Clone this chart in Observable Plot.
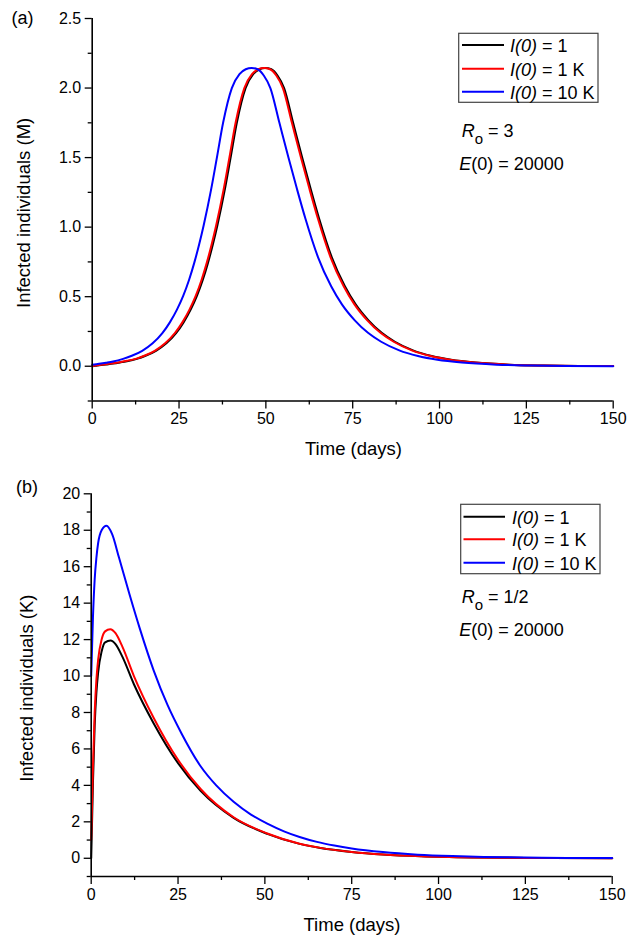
<!DOCTYPE html>
<html><head><meta charset="utf-8">
<script src="https://cdn.jsdelivr.net/npm/d3@7"></script>
<script src="https://cdn.jsdelivr.net/npm/@observablehq/plot@0.6"></script>
<style>
body{margin:0;background:#fff;}
#chart{width:627px;}
#chart svg{display:block;}
</style></head><body><div id="chart"></div>
<script>
// ---------- ticks ----------
const xMajor = [0, 25, 50, 75, 100, 125, 150];
const xMinor = [12.5, 37.5, 62.5, 87.5, 112.5, 137.5];
const topYMajor = [0, 0.5, 1, 1.5, 2, 2.5];
const topYMinor = [-0.25, 0.25, 0.75, 1.25, 1.75, 2.25];
const botYMajor = [0, 2, 4, 6, 8, 10, 12, 14, 16, 18, 20];
const botYMinor = [-1, 1, 3, 5, 7, 9, 11, 13, 15, 17, 19];

// ---------- series ----------
const seriesLabels = ["1", "1 K", "10 K"];
const seriesColors = ["#000000", "#ff0000", "#0000ff"];

// panel (a): R0 = 3, infected individuals in millions, [day, value]
const topI1 = [[0,0],[1,0.003],[2,0.007],[4,0.013],[6,0.019],[8,0.027],[10,0.036],[12.85,0.053],[15.35,0.075],[18.35,0.111],[21.35,0.165],[24.15,0.238],[26.35,0.317],[28.35,0.407],[30.15,0.506],[31.85,0.622],[33.35,0.745],[34.75,0.877],[36.05,1.014],[38.15,1.266],[39.85,1.5],[41.65,1.752],[44.15,2.0],[46.35,2.1],[48.15,2.135],[49.85,2.145],[51.55,2.135],[53.35,2.09],[55.25,2.0],[57.85,1.75],[60.45,1.5],[62.95,1.27],[65.35,1.06],[68.95,0.785],[72.75,0.575],[75.85,0.445],[79.55,0.33],[83.35,0.24],[87.15,0.176],[92.35,0.114],[97.75,0.073],[103.35,0.046],[110.35,0.026],[120,0.011],[130,0.005],[140,0.002],[150,0.001]];
const topI1K = [[0,0.001],[1,0.005],[2,0.009],[4,0.015],[6,0.021],[8,0.029],[10,0.039],[12.5,0.053],[15,0.075],[18,0.111],[21,0.165],[23.8,0.238],[26,0.317],[28,0.407],[29.8,0.506],[31.5,0.622],[33,0.745],[34.4,0.877],[35.7,1.014],[37.8,1.266],[39.5,1.5],[41.3,1.752],[43.8,2.0],[46,2.1],[47.8,2.135],[49.5,2.145],[51.2,2.135],[53,2.09],[54.9,2.0],[57.5,1.75],[60.1,1.5],[62.6,1.27],[65,1.06],[68.6,0.785],[72.4,0.575],[75.5,0.445],[79.2,0.33],[83,0.24],[86.8,0.176],[92,0.114],[97.4,0.073],[103,0.046],[110,0.026],[120,0.011],[130,0.005],[140,0.002],[150,0.001]];
const topI10K = [[0,0.01],[2,0.017],[4,0.025],[6,0.034],[8.9,0.053],[11.4,0.075],[14.4,0.111],[17.4,0.165],[20.2,0.238],[22.4,0.317],[24.4,0.407],[26.2,0.506],[27.9,0.622],[29.4,0.745],[30.8,0.877],[32.1,1.014],[34.2,1.266],[35.9,1.5],[37.7,1.752],[40.2,2.0],[42.4,2.1],[44.2,2.135],[45.9,2.145],[47.6,2.135],[49.4,2.09],[51.3,2.0],[53.9,1.75],[56.5,1.5],[59,1.27],[61.4,1.06],[65,0.785],[68.8,0.575],[71.9,0.445],[75.6,0.33],[79.4,0.24],[83.2,0.176],[88.4,0.114],[93.8,0.073],[99.4,0.046],[106.4,0.026],[116.4,0.011],[126.4,0.005],[136.4,0.002],[150,0.0005]];

// panel (b): R0 = 1/2, infected individuals in thousands, [day, value]
const botI1 = [[0,0],[0.5,4.1],[1,7.3],[1.5,9.1],[2,10.2],[3,11.35],[4,11.85],[5.6,11.95],[7,11.75],[9,11.05],[12.3,9.55],[18,7.4],[25,5.22],[31.5,3.7],[41,2.22],[50.7,1.34],[60,0.79],[66,0.565],[75,0.35],[84,0.21],[95,0.11],[110,0.045],[125,0.02],[150,0.004]];
const botI1K = [[0,1.0],[0.5,5.0],[1,8.0],[1.5,9.8],[2,10.9],[3,12.0],[4,12.45],[5.5,12.57],[7,12.35],[9,11.6],[12.3,10.0],[18,7.7],[25,5.4],[31.5,3.8],[41,2.25],[50.7,1.36],[60,0.8],[66,0.57],[75,0.35],[84,0.21],[95,0.11],[110,0.045],[125,0.02],[150,0.004]];
const botI10K = [[0,10.0],[0.5,13.2],[1,15.3],[1.5,16.5],[2,17.3],[3,18.0],[4.4,18.25],[6,17.8],[8,16.5],[11,14.5],[14,12.6],[18,10.3],[22,8.4],[26,6.85],[31.5,5.05],[36,4.0],[41,3.1],[46,2.4],[50.7,1.9],[55.5,1.48],[60,1.17],[65,0.9],[70,0.7],[75,0.54],[84,0.34],[94,0.2],[104,0.12],[113,0.075],[125,0.04],[137,0.02],[150,0.01]];

const FONT = "'Liberation Sans', Arial, Helvetica, sans-serif";

function panel(cfg) {
  const lineOpts = (color) => ({x: d => d[0], y: d => d[1], stroke: color, strokeWidth: 2, curve: "monotone-x"});
  return Plot.plot({
    width: 627, height: cfg.height,
    marginLeft: cfg.ml, marginRight: cfg.mr, marginTop: cfg.mt, marginBottom: cfg.mb,
    x: {domain: [0, 150]},
    y: {domain: cfg.yDomain},
    style: {fontFamily: FONT, fontSize: "16px", color: "#000", background: "#fff", overflow: "visible"},
    marks: [
      Plot.axisX(xMajor, {tickSize: 8, tickPadding: 4, strokeWidth: 1.3, label: null, tickFormat: d3.format("d")}),
      Plot.axisX(xMinor, {tickSize: 4, strokeWidth: 1.3, label: null, tickFormat: () => ""}),
      Plot.axisY(cfg.yMajor, {tickSize: 7, tickPadding: 4, strokeWidth: 1.3, label: null, tickFormat: cfg.yFormat}),
      Plot.axisY(cfg.yMinor, {tickSize: 4, strokeWidth: 1.3, label: null, tickFormat: () => ""}),
      Plot.line(cfg.series[0], lineOpts(seriesColors[0])),
      Plot.line(cfg.series[1], lineOpts(seriesColors[1])),
      Plot.line(cfg.series[2], lineOpts(seriesColors[2])),
      Plot.ruleX([0], {stroke: "#000", strokeWidth: 1.6}),
      Plot.ruleY([cfg.yDomain[0]], {stroke: "#000", strokeWidth: 1.6})
    ]
  });
}

function decorate(svg, d) {
  const g = d3.select(svg).append("g").attr("font-family", FONT).attr("fill", "#000")
    .attr("font-size", 18).attr("text-anchor", "start");
  g.append("text").attr("x", d.letter[0]).attr("y", d.letter[1]).text(d.letter[2]);
  g.append("text").attr("x", d.xTitle[0]).attr("y", d.xTitle[1]).attr("font-size", 18.5).text("Time (days)");
  g.append("text").attr("transform", `translate(${d.yTitle[0]},${d.yTitle[1]}) rotate(-90)`).attr("font-size", 18.5).text(d.yTitle[2]);
  const L = d.legend;
  g.append("rect").attr("x", L.x).attr("y", L.y).attr("width", L.w).attr("height", L.h)
    .attr("fill", "#fff").attr("stroke", "#444").attr("stroke-width", 1.2);
  L.rows.forEach((ry, i) => {
    g.append("line").attr("x1", L.lx1).attr("x2", L.lx2).attr("y1", ry).attr("y2", ry)
      .attr("stroke", seriesColors[i]).attr("stroke-width", 2);
    const t = g.append("text").attr("x", L.tx).attr("y", ry + 7);
    t.append("tspan").attr("font-style", "italic").text("I(0)");
    t.append("tspan").text(" = " + seriesLabels[i]);
  });
  const r = g.append("text").attr("x", d.r[0]).attr("y", d.r[1]);
  r.append("tspan").attr("font-style", "italic").text("R");
  r.append("tspan").attr("dy", 7).attr("font-size", 15).text("o");
  r.append("tspan").attr("dy", -7).text(" = " + d.r[2]);
  const e = g.append("text").attr("x", d.e[0]).attr("y", d.e[1]);
  e.append("tspan").attr("font-style", "italic").text("E");
  e.append("tspan").text("(0) = 20000");
}

const topPanel = panel({
  height: 470, ml: 91.7, mr: 14.3, mt: 18, mb: 69.5,
  yDomain: [-0.25, 2.5], yMajor: topYMajor, yMinor: topYMinor, yFormat: d3.format(".1f"),
  series: [topI1, topI1K, topI10K]
});
decorate(topPanel, {
  letter: [11.5, 24, "(a)"],
  xTitle: [305, 455],
  yTitle: [29.5, 308, "Infected individuals (M)"],
  legend: {x: 458.7, y: 33.3, w: 139.3, h: 69, lx1: 462, lx2: 504, tx: 510, rows: [45, 68.7, 91.7]},
  r: [461.7, 137, "3"],
  e: [459.3, 170]
});

const botPanel = panel({
  height: 473, ml: 90.7, mr: 15.3, mt: 23.3, mb: 67,
  yDomain: [-1, 20], yMajor: botYMajor, yMinor: botYMinor, yFormat: d3.format("d"),
  series: [botI1, botI1K, botI10K]
});
decorate(botPanel, {
  letter: [16, 23.3, "(b)"],
  xTitle: [303.5, 460.5],
  yTitle: [33, 311.7, "Infected individuals (K)"],
  legend: {x: 460.7, y: 34.3, w: 139.3, h: 69.4, lx1: 463.5, lx2: 505, tx: 512, rows: [46.7, 69.3, 92.7]},
  r: [461.7, 132.7, "1/2"],
  e: [459.3, 166]
});

const host = document.getElementById("chart");
host.appendChild(topPanel);
host.appendChild(botPanel);
</script>
</body></html>
